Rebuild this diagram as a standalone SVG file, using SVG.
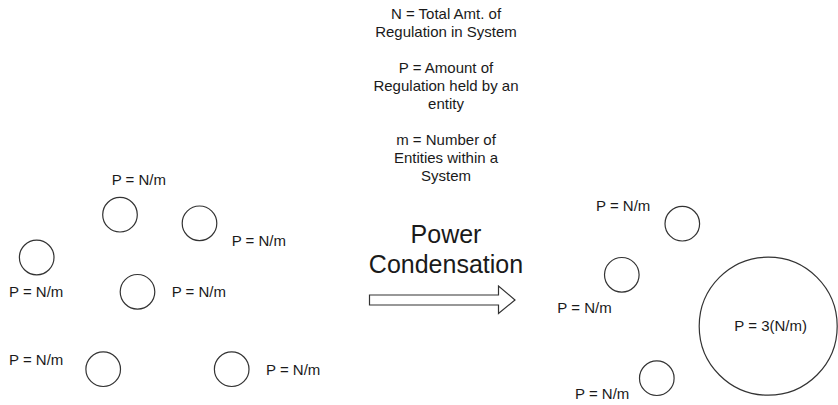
<svg xmlns="http://www.w3.org/2000/svg" width="838" height="405" viewBox="0 0 838 405">
<style>
.n{fill:#fff;stroke:#333;stroke-width:1.2}
text{font-family:"Liberation Sans",Arial,sans-serif;fill:#1a1a1a}
.s{font-size:15px}
.c{text-anchor:middle}
.b{font-size:25px}
</style>
<rect width="838" height="405" fill="#fff"/>
<g id="legend">
<text class="s c" x="446" y="19">N = Total Amt. of</text>
<text class="s c" x="446" y="37">Regulation in System</text>
<text class="s c" x="446" y="73">P = Amount of</text>
<text class="s c" x="446" y="91">Regulation held by an</text>
<text class="s c" x="446" y="109">entity</text>
<text class="s c" x="446" y="145">m = Number of</text>
<text class="s c" x="446" y="163">Entities within a</text>
<text class="s c" x="446" y="181">System</text>
</g>
<g id="title">
<text class="b c" x="446" y="243">Power</text>
<text class="b c" x="446" y="273">Condensation</text>
</g>
<g id="connectors">
<path class="n" d="M369.5,295 H498.5 V286 L515,300 L498.5,313.5 V305 H369.5 Z"/>
</g>
<g id="node-l1"><circle class="n" cx="120" cy="214.7" r="17.3"/><text class="s" x="111.7" y="184.7">P = N/m</text></g>
<g id="node-l2"><circle class="n" cx="199.5" cy="223.3" r="17.3"/><text class="s" x="231.7" y="245.7">P = N/m</text></g>
<g id="node-l3"><circle class="n" cx="36.7" cy="257.5" r="17.3"/><text class="s" x="9" y="296.7">P = N/m</text></g>
<g id="node-l4"><circle class="n" cx="137.5" cy="291.8" r="17.3"/><text class="s" x="171.7" y="296.7">P = N/m</text></g>
<g id="node-l5"><circle class="n" cx="103.2" cy="369.2" r="17.3"/><text class="s" x="9" y="364.7">P = N/m</text></g>
<g id="node-l6"><circle class="n" cx="231.7" cy="369.2" r="17.3"/><text class="s" x="266" y="374.7">P = N/m</text></g>
<g id="node-r1"><circle class="n" cx="682.3" cy="223.7" r="17.3"/><text class="s" x="596" y="210.7">P = N/m</text></g>
<g id="node-r2"><circle class="n" cx="621.8" cy="274.8" r="17.3"/><text class="s" x="557.3" y="313.3">P = N/m</text></g>
<g id="node-r3"><circle class="n" cx="656.8" cy="378.2" r="17.3"/><text class="s" x="575" y="399">P = N/m</text></g>
<g id="node-big"><circle class="n" cx="768.2" cy="326.2" r="69"/><text class="s" x="734.3" y="330.7">P = 3(N/m)</text></g>
</svg>
